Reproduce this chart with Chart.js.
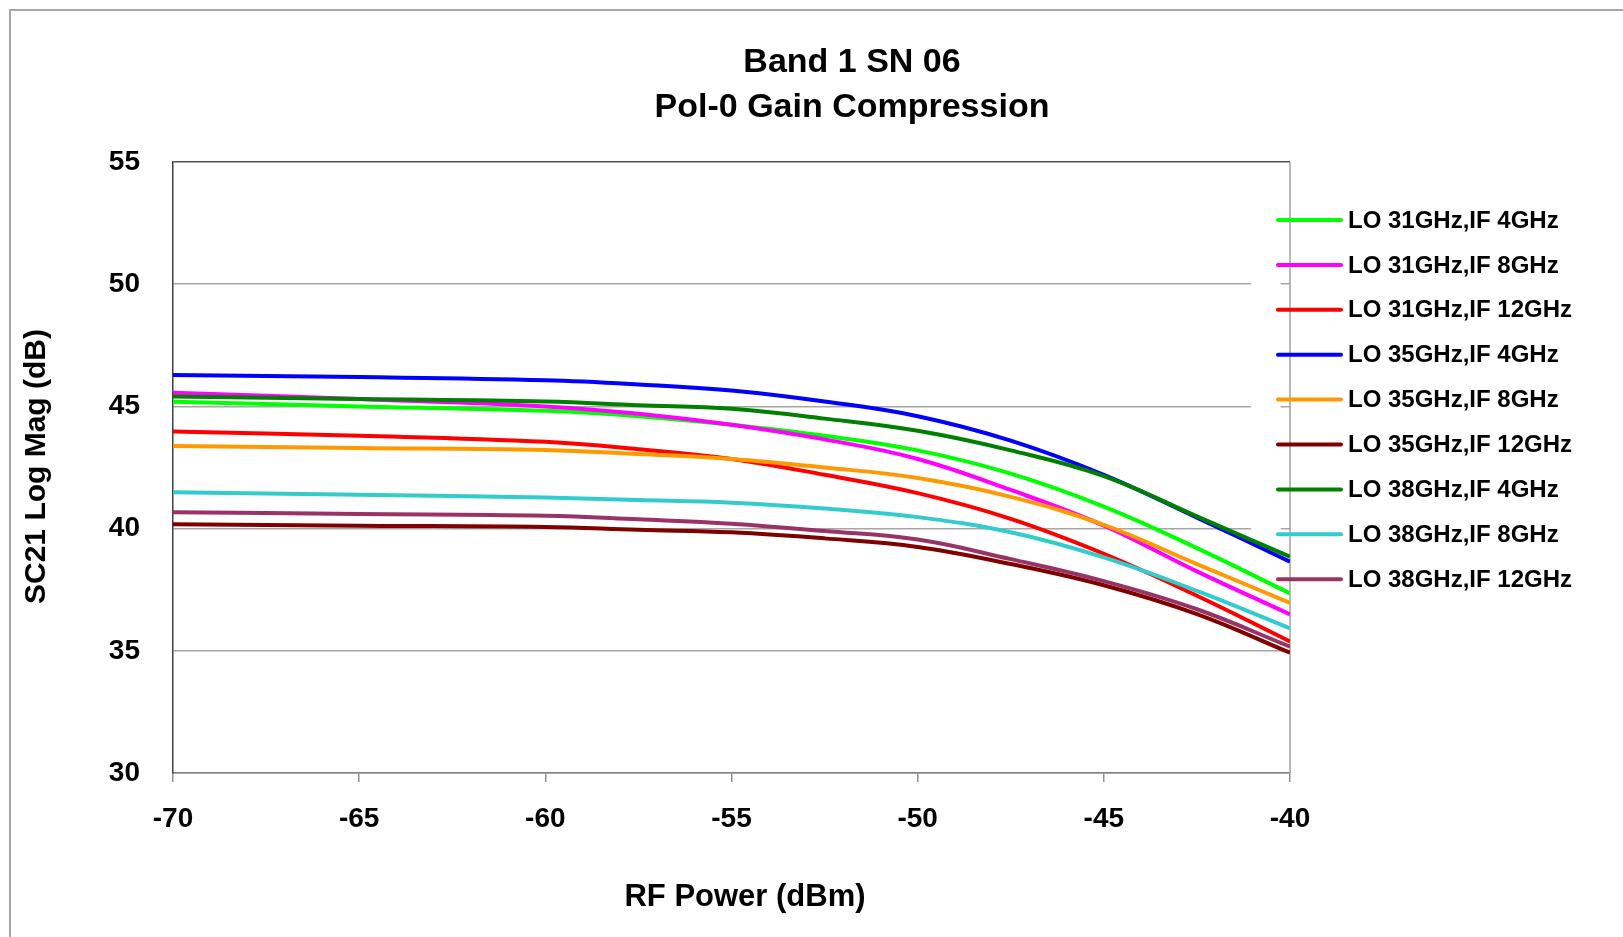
<!DOCTYPE html>
<html>
<head>
<meta charset="utf-8">
<title>Band 1 SN 06 - Pol-0 Gain Compression</title>
<script src="https://cdn.jsdelivr.net/npm/chart.js@4.4.1/dist/chart.umd.min.js"></script>
<style>
  html, body { margin: 0; padding: 0; background: #fff; }
  #wrap { position: relative; width: 1623px; height: 937px; }
</style>
</head>
<body>
<div id="wrap"><canvas id="gain-chart" width="1623" height="937"></canvas></div>
<script>
// RF input power (dBm)
const rfPower = [-70, -65, -60, -57.5, -55, -52.5, -50, -47.5, -45, -42.5, -40];

const seriesNames = [
    'LO 31GHz,IF 4GHz',
    'LO 31GHz,IF 8GHz',
    'LO 31GHz,IF 12GHz',
    'LO 35GHz,IF 4GHz',
    'LO 35GHz,IF 8GHz',
    'LO 35GHz,IF 12GHz',
    'LO 38GHz,IF 4GHz',
    'LO 38GHz,IF 8GHz',
    'LO 38GHz,IF 12GHz'
];

// SC21 log mag (dB)
const lo31if4  = [45.19, 45.00, 44.82, 44.60, 44.25, 43.80, 43.20, 42.25, 40.90, 39.20, 37.35];
const lo31if8  = [45.56, 45.30, 45.00, 44.70, 44.25, 43.65, 42.85, 41.58, 40.12, 38.25, 36.49];
const lo31if12 = [43.97, 43.80, 43.55, 43.25, 42.85, 42.20, 41.45, 40.40, 38.97, 37.25, 35.38];
const lo35if4  = [46.28, 46.20, 46.07, 45.90, 45.65, 45.20, 44.60, 43.60, 42.20, 40.45, 38.65];
const lo35if8  = [43.38, 43.30, 43.22, 43.05, 42.85, 42.50, 42.07, 41.30, 40.15, 38.55, 36.96];
const lo35if12 = [40.18, 40.12, 40.07, 39.95, 39.85, 39.60, 39.25, 38.55, 37.68, 36.50, 34.92];
const lo38if4  = [45.40, 45.30, 45.20, 45.05, 44.90, 44.50, 44.00, 43.20, 42.15, 40.50, 38.85];
const lo38if8  = [41.49, 41.38, 41.27, 41.17, 41.06, 40.82, 40.47, 39.85, 38.82, 37.45, 35.92];
const lo38if12 = [40.67, 40.60, 40.53, 40.38, 40.20, 39.90, 39.55, 38.75, 37.85, 36.70, 35.17];

const seriesValues = [lo31if4, lo31if8, lo31if12, lo35if4, lo35if8, lo35if12, lo38if4, lo38if8, lo38if12];
const seriesColors = ['#00ff00', '#ff00ff', '#ff0000', '#0000ff', '#ff9900', '#800000', '#008000', '#33cccc', '#993366'];

const xTicks = [-70, -65, -60, -55, -50, -45, -40];
const yTicks = [30, 35, 40, 45, 50, 55];

const titleLines = ['Band 1 SN 06', 'Pol-0 Gain Compression'];
const xTitle = 'RF Power (dBm)';
const yTitle = 'SC21 Log Mag (dB)';

const FONT = '"Liberation Sans", Arial, sans-serif';

document.addEventListener('DOMContentLoaded', () => {
    const canvas = document.getElementById('gain-chart');

    const datasets = seriesNames.map((name, i) => ({
        label: name,
        data: rfPower.map((x, j) => ({ x: x, y: seriesValues[i][j] })),
        borderColor: seriesColors[i],
        backgroundColor: seriesColors[i],
        borderWidth: 4,
        pointRadius: 0,
        tension: 0.4,
        fill: false,
        // Excel puts later series on top
        order: seriesNames.length - i
    }));

    // legend sits over the right edge of the plot, so gridlines stop short there
    const legendGap = { from: -41.05, to: -40.25 };

    const framePlugin = {
        id: 'frame',
        beforeDraw(chart) {
            const ctx = chart.ctx;
            ctx.save();
            ctx.fillStyle = '#fff';
            ctx.fillRect(0, 0, chart.width, chart.height);
            ctx.strokeStyle = '#a6a6a6';
            ctx.lineWidth = 2;
            ctx.beginPath();
            ctx.moveTo(10, chart.height);
            ctx.lineTo(10, 10);
            ctx.lineTo(chart.width, 10);
            ctx.stroke();
            ctx.restore();
        },
        beforeDatasetsDraw(chart) {
            const { ctx, chartArea, scales } = chart;
            const x0 = scales.x.getPixelForValue(legendGap.from);
            const x1 = scales.x.getPixelForValue(legendGap.to);
            const yTop = scales.y.getPixelForValue(51);
            const yBot = scales.y.getPixelForValue(37.5);
            ctx.save();
            ctx.fillStyle = '#fff';
            ctx.fillRect(x0, yTop, x1 - x0, yBot - yTop);
            // right border of plot
            ctx.strokeStyle = '#a0a0a0';
            ctx.lineWidth = 1.5;
            ctx.beginPath();
            ctx.moveTo(chartArea.right, chartArea.top);
            ctx.lineTo(chartArea.right, chartArea.bottom);
            ctx.stroke();
            ctx.restore();
        },
        afterDraw(chart) {
            const ctx = chart.ctx;
            const area = chart.chartArea;
            ctx.save();
            ctx.fillStyle = '#000';
            ctx.textAlign = 'center';
            ctx.textBaseline = 'middle';

            // title, centred on the whole figure rather than the plot
            ctx.font = 'bold 34px ' + FONT;
            ctx.fillText(titleLines[0], 852, 63);
            ctx.fillText(titleLines[1], 852, 108);

            // axis titles
            ctx.font = 'bold 31px ' + FONT;
            ctx.fillText(xTitle, 745, 897);
            ctx.save();
            ctx.translate(37, (area.top + area.bottom) / 2 - 1);
            ctx.rotate(-Math.PI / 2);
            ctx.font = 'bold 30px ' + FONT;
            ctx.fillText(yTitle, 0, 0);
            ctx.restore();

            // legend
            const x0 = area.right - 12;
            const x1 = area.right + 51;
            const tx = area.right + 58;
            const y0 = area.top + 58;
            const step = 44.9;
            ctx.font = 'bold 24px ' + FONT;
            ctx.textAlign = 'left';
            chart.data.datasets.forEach((ds, i) => {
                const y = y0 + i * step;
                ctx.strokeStyle = ds.borderColor;
                ctx.lineWidth = 4;
                ctx.lineCap = 'round';
                ctx.beginPath();
                ctx.moveTo(x0, y);
                ctx.lineTo(x1, y);
                ctx.stroke();
                ctx.fillStyle = '#000';
                ctx.fillText(ds.label, tx, y + 1);
            });
            ctx.restore();
        }
    };

    new Chart(canvas, {
        type: 'line',
        data: { datasets: datasets },
        options: {
            responsive: false,
            animation: false,
            layout: { padding: { left: 0, right: 333, top: 162, bottom: 0 } },
            plugins: {
                legend: { display: false },
                tooltip: { enabled: false },
                title: { display: false }
            },
            scales: {
                x: {
                    type: 'linear',
                    min: -70,
                    max: -40,
                    afterBuildTicks(axis) {
                        axis.ticks = xTicks.map(v => ({ value: v }));
                    },
                    afterFit(axis) { axis.height = 164; },
                    border: { display: true, color: '#808080', width: 1.5 },
                    grid: { drawOnChartArea: false, drawTicks: true, tickLength: 9, color: '#909090', lineWidth: 1.5 },
                    ticks: {
                        color: '#000',
                        padding: 20,
                        maxRotation: 0,
                        font: { family: FONT, size: 28, weight: 'bold' }
                    }
                },
                y: {
                    type: 'linear',
                    min: 30,
                    max: 55,
                    afterBuildTicks(axis) {
                        axis.ticks = yTicks.map(v => ({ value: v }));
                    },
                    afterFit(axis) { axis.width = 173; },
                    border: { display: true, color: '#404040', width: 1.5 },
                    grid: {
                        drawTicks: false,
                        color: ctx => (ctx.tick && ctx.tick.value === 55 ? '#505050' : '#a6a6a6'),
                        lineWidth: 1.5
                    },
                    ticks: {
                        color: '#000',
                        padding: 33,
                        font: { family: FONT, size: 28, weight: 'bold' }
                    }
                }
            }
        },
        plugins: [framePlugin]
    });
});
</script>
</body>
</html>
